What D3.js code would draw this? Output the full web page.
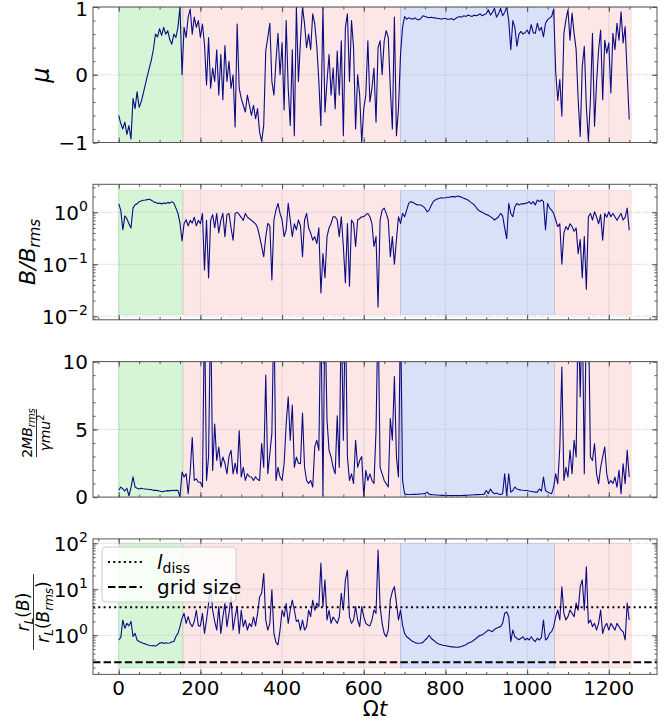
<!DOCTYPE html>
<html><head><meta charset="utf-8">
<script src="https://cdn.jsdelivr.net/npm/d3@7"></script>
<style>body{margin:0;background:#fff;} svg{display:block;font-family:"DejaVu Sans",sans-serif;}</style>
</head><body><svg id="c" width="670" height="726"></svg>
<script>
// ---------------- data ----------------
const STEP = 5; // sampling interval in Ωt (sample i is at Ωt = i*STEP)

const mu = [
-0.6,-0.72,-0.8,-0.7,-0.88,-0.75,-0.95,-0.35,-0.5,-0.25,
-0.48,-0.4,-0.28,-0.15,-0.02,0.1,0.22,0.38,0.6,0.56,
0.68,0.58,0.7,0.6,0.65,0.52,0.45,0.6,0.55,0.7,
1.0,0.0,0.7,0.55,0.85,0.97,0.6,0.85,0.7,0.8,
0.55,0.75,0.45,-0.15,0.55,-0.2,0.1,-0.1,0.37,-0.3,
0.3,-0.37,0.43,-0.1,0.2,-0.2,0.0,-0.77,0.75,-0.2,
-0.35,-0.45,-0.55,-0.3,-0.45,-0.6,-0.45,-0.65,-0.5,-0.85,
-0.98,-0.75,0.35,0.55,0.76,-0.1,-0.3,0.2,0.61,0.0,
0.47,-0.52,0.8,-0.2,-0.75,0.37,-0.9,1.0,-0.1,0.5,
1.0,0.75,0.4,0.6,0.37,0.9,0.75,0.42,-0.1,-0.75,
1.0,-0.55,-0.1,0.3,-0.3,0.1,-0.5,0.35,-0.3,0.5,
-0.9,0.7,0.9,-0.1,0.8,0.4,-0.8,0.0,-0.3,-1.0,
-0.5,-0.3,0.5,-0.4,-0.2,0.1,-0.7,0.4,0.5,0.0,
0.5,0.65,0.55,-0.2,-0.8,0.85,-0.9,-0.5,0.3,0.7,
0.86,0.82,0.84,0.83,0.82,0.84,0.82,0.81,0.83,0.87,
0.86,0.85,0.84,0.85,0.84,0.84,0.83,0.83,0.82,0.83,
0.83,0.82,0.82,0.83,0.81,0.83,0.85,0.86,0.85,0.87,
0.86,0.88,0.87,0.86,0.88,0.87,0.88,0.9,0.87,0.89,
0.9,0.96,0.88,0.92,0.98,0.85,0.9,0.98,0.87,0.92,
1.0,0.8,0.37,0.8,0.7,0.42,0.6,0.64,0.6,0.62,
0.66,0.6,0.74,0.62,0.61,0.76,0.65,0.7,0.56,0.76,
0.81,0.84,0.86,0.97,0.04,-0.38,-0.07,-0.61,0.61,0.81,
0.96,0.51,0.91,0.61,0.37,-0.37,-0.91,0.12,0.42,-0.47,
-0.98,-0.37,0.61,-0.76,-0.12,0.37,0.66,-0.37,0.51,0.32,
0.47,-0.27,0.61,0.37,0.76,0.51,0.93,0.47,0.71,0.0,
-0.66];

const bRatio = [
1.45,1.1,0.46,0.85,0.75,0.6,0.5,1.2,1.4,1.45,
1.6,1.65,1.7,1.72,1.75,1.78,1.7,1.6,1.55,1.48,
1.5,1.45,1.5,1.48,1.55,1.5,1.6,1.5,1.2,0.95,
0.62,0.28,0.6,0.72,0.55,0.7,0.62,0.8,0.55,0.7,
0.6,0.95,0.078,0.7,0.055,0.7,0.9,0.5,0.95,0.4,
0.7,0.95,0.34,0.9,0.95,0.5,0.29,0.95,1.0,0.9,
0.8,0.7,0.95,0.8,0.75,0.7,0.65,0.6,0.5,0.34,
0.22,0.14,0.34,0.61,0.55,0.05,0.71,1.1,1.48,0.95,
0.71,0.34,0.46,1.48,0.71,0.34,0.6,0.46,0.71,0.55,
0.14,0.71,0.95,0.5,0.4,0.29,0.34,0.25,0.5,0.028,
0.16,0.055,0.34,0.5,0.61,0.82,0.82,0.71,0.34,0.82,
0.22,0.044,0.61,0.038,0.71,0.61,0.22,0.71,0.76,0.82,
0.82,0.9,0.95,0.82,0.61,0.22,0.34,0.015,0.71,1.1,
1.2,0.95,0.71,0.14,0.34,0.1,0.3,0.82,0.61,0.95,
0.82,1.1,1.48,1.6,1.55,1.48,1.4,1.38,1.38,1.3,
1.2,1.02,1.1,1.35,1.6,1.72,1.8,1.86,1.9,1.88,
1.9,1.95,1.95,2.0,2.0,1.98,2.05,2.0,1.95,1.85,
1.8,1.72,1.6,1.5,1.4,1.25,1.1,1.05,1.0,0.95,
0.9,0.88,0.82,0.78,0.71,0.76,0.82,0.95,0.85,0.5,
0.31,1.48,0.95,0.82,1.28,1.48,1.38,1.45,1.45,1.48,
1.5,1.6,1.45,1.6,1.38,1.72,1.6,1.72,1.6,0.46,
1.48,1.2,1.1,0.95,0.71,0.53,0.6,0.1,0.4,0.53,
0.46,0.6,0.53,0.43,0.5,0.16,0.3,0.055,0.34,0.033,
0.82,0.95,0.71,1.02,0.82,0.6,0.9,0.29,0.95,0.8,
1.02,0.82,0.95,0.82,0.7,0.82,0.95,0.71,0.8,1.2,
0.45];

const moment = [
0.5,0.74,0.6,0.45,0.65,0.1,0.7,1.5,0.74,0.65,
0.6,0.65,0.62,0.6,0.58,0.56,0.55,0.5,0.5,0.48,
0.45,0.4,0.42,0.45,0.48,0.46,0.5,0.48,0.5,0.5,
0.0,1.85,1.48,1.72,0.25,1.85,4.4,1.23,1.35,1.1,
1.1,0.74,14,1.23,3.0,14,1.97,5.4,2.7,3.7,
2.2,2.96,2.5,1.72,3.0,3.45,1.72,2.5,1.72,4.9,
1.48,2.2,1.23,1.72,1.5,1.48,1.23,1.5,1.3,1.23,
3.95,2.2,9.0,1.72,3.2,4.7,14,1.23,2.2,1.48,
1.23,2.46,5.4,7.4,4.2,6.8,2.2,2.96,2.5,2.46,
6.2,2.2,1.23,1.0,1.23,0.74,3.7,4.2,3.45,14,
0.1,14,5.67,3.45,2.96,2.2,1.72,6.0,2.2,14,
4.2,14,2.96,1.23,1.72,1.0,4.2,2.2,2.7,3.0,
0.0,1.97,1.23,1.72,1.23,1.0,4.9,14,2.2,1.72,
1.23,0.98,0.74,5.8,4.2,8.9,2.96,1.48,14,1.23,
0.25,0.2,0.19,0.19,0.2,0.2,0.21,0.22,0.23,0.25,
0.26,0.37,0.22,0.18,0.17,0.16,0.15,0.14,0.13,0.13,
0.12,0.12,0.12,0.11,0.12,0.12,0.11,0.12,0.12,0.13,
0.13,0.14,0.15,0.16,0.17,0.18,0.18,0.19,0.2,0.22,
0.49,0.25,0.6,0.37,0.25,0.3,0.22,0.19,0.25,1.72,
0.12,1.72,0.37,0.49,0.74,0.6,0.55,0.52,0.5,0.49,
0.49,0.45,0.42,0.4,0.37,0.37,0.6,0.45,1.48,0.49,
0.37,0.3,0.25,0.74,1.72,0.98,3.7,9.6,1.23,2.2,
1.48,3.45,1.72,4.2,2.96,14,7.4,14,1.72,14,
14,2.96,2.7,3.95,1.72,0.98,2.2,2.96,3.7,1.72,
0.98,1.23,1.0,1.48,0.74,1.97,0.25,2.46,0.98,3.45,
1.48];

const rLRatio = [
0.79,0.9,2.15,1.42,1.82,1.6,2.0,0.94,1.1,0.79,
0.73,0.7,0.67,0.65,0.62,0.6,0.59,0.6,0.58,0.62,
0.67,0.7,0.66,0.69,0.67,0.68,0.72,0.73,0.94,1.1,
1.54,2.35,3.0,1.82,2.55,1.8,1.54,2.0,3.5,1.6,
1.6,3.0,1.1,2.15,4.9,13.0,3.5,2.0,1.3,4.2,
1.1,2.5,4.9,1.54,3.0,6.9,1.3,2.5,4.2,1.1,
3.5,1.54,2.15,1.3,1.8,1.54,2.5,1.6,3.0,6.9,
8.2,22,2.15,1.3,1.82,9.7,1.1,0.7,0.62,1.3,
3.5,2.55,4.9,1.8,3.5,5.8,3.5,2.0,2.15,1.3,
2.15,1.3,1.54,3.5,2.55,5.8,3.5,5.0,4.2,37,
4.2,16,2.15,3.5,1.82,2.5,2.15,1.82,2.5,8.2,
3.55,16,26,2.54,1.82,2.15,4.2,2.15,1.54,4.2,
2.54,1.82,1.67,1.6,2.15,3.55,3.0,71,4.2,1.82,
1.1,0.93,1.3,5.9,9.0,11.4,5.0,2.15,3.55,1.67,
1.1,0.93,0.86,0.79,0.73,0.7,0.67,0.67,0.68,0.7,
0.79,0.86,1.0,0.86,0.79,0.73,0.67,0.64,0.62,0.6,
0.6,0.58,0.57,0.56,0.56,0.55,0.55,0.56,0.57,0.6,
0.62,0.67,0.7,0.73,0.79,0.85,0.93,1.0,1.02,1.1,
1.2,1.3,1.25,1.2,1.35,1.42,1.5,1.54,1.82,3.0,
3.2,2.54,0.73,1.3,0.93,0.86,0.8,0.86,0.93,0.79,
0.86,0.79,0.93,0.8,0.73,0.86,0.79,0.9,2.15,0.79,
0.86,1.1,1.2,1.54,2.54,3.55,2.15,11.4,3.0,2.15,
2.54,3.55,3.0,2.54,5.0,3.5,11.4,16,3.55,31,
1.82,2.15,1.54,1.82,1.3,1.82,3.55,1.1,1.54,1.82,
1.3,1.82,1.54,1.3,1.82,1.54,1.3,1.2,0.79,5.0,
2.15];

// phases (Ωt intervals) and their kind
const phaseStart = [0, 157, 690, 1067];
const phaseEnd   = [157, 690, 1067, 1255];
const phaseKind  = ["trapped", "scattering", "mirror", "scattering"];

// reference levels in panel 4
const lDiss = 4.05;
const gridSize = 0.26;

// ticks
const xTicks = [0, 200, 400, 600, 800, 1000, 1200];
const muTicks = [-1, 0, 1];
const bTicks = [0.01, 0.1, 1];
const momentTicks = [0, 5, 10];
const rLTicks = [1, 10, 100];

// vertical extent of phase shading per panel
const muSpan = [-1, 1];
const bSpan = [0.0108, 2.65];
const momentSpan = [0, 10];
const rLSpan = [0.195, 100];

// ---------------- drawing ----------------
const svg = d3.select("#c");
const L = 93, R = 657, PH = 135.5;
const tops = [7, 184.3, 361.6, 538.9];
const x = d3.scaleLinear().domain([-63, 1318]).range([L, R]);
const xMinor = d3.range(-50, 1301, 50);
const spineColor = "#555";
const phaseFill = {trapped: "rgb(50,205,50)", scattering: "rgb(240,128,128)", mirror: "rgb(65,105,225)"};

function logMinors(dom) {
  const out = [];
  for (let e = Math.floor(Math.log10(dom[0])); e <= Math.ceil(Math.log10(dom[1])); e++)
    for (let k = 1; k < 10; k++) { const v = k * Math.pow(10, e); if (v >= dom[0] && v <= dom[1]) out.push(v); }
  return out;
}

const specs = [
  {values: mu, log: false, domain: [-1, 1], majors: muTicks, minors: d3.range(-1, 1.0001, 0.2), span: muSpan},
  {values: bRatio, log: true, domain: [0.00855, 3.45], majors: bTicks, span: bSpan},
  {values: moment, log: false, domain: [0, 10], majors: momentTicks, minors: d3.range(0, 10.001, 1), span: momentSpan},
  {values: rLRatio, log: true, domain: [0.141, 124.7], majors: rLTicks, span: rLSpan},
];

specs.forEach((s, i) => {
  const top = tops[i], bot = top + PH;
  const y = (s.log ? d3.scaleLog() : d3.scaleLinear()).domain(s.domain).range([bot, top]);
  const minors = s.log ? logMinors(s.domain) : s.minors;
  const g = svg.append("g");
  const clipId = "clip" + i;
  svg.append("clipPath").attr("id", clipId).append("rect")
    .attr("x", L).attr("y", top).attr("width", R - L).attr("height", PH);

  // phase shading
  g.append("g").attr("clip-path", `url(#${clipId})`).selectAll("rect")
    .data(phaseStart.map((a, k) => ({a, b: phaseEnd[k], kind: phaseKind[k]})))
    .join("rect")
    .attr("x", d => x(d.a)).attr("width", d => x(d.b) - x(d.a))
    .attr("y", y(s.span[1])).attr("height", y(s.span[0]) - y(s.span[1]))
    .attr("fill", d => phaseFill[d.kind]).attr("fill-opacity", 0.2)
    .attr("stroke", d => phaseFill[d.kind]).attr("stroke-opacity", 0.2).attr("stroke-width", 1);

  // grid
  const grid = g.append("g").attr("stroke", "#b0b0b0").attr("stroke-width", 0.8).attr("stroke-dasharray", "1,1.6");
  grid.selectAll("line.v").data(xTicks).join("line").attr("class", "v")
    .attr("x1", d => x(d)).attr("x2", d => x(d)).attr("y1", top).attr("y2", bot);
  grid.selectAll("line.h").data(s.majors).join("line").attr("class", "h")
    .attr("x1", L).attr("x2", R).attr("y1", d => y(d)).attr("y2", d => y(d));

  // series line
  const line = d3.line().x((d, j) => x(j * STEP)).y(d => y(d));
  g.append("path").datum(s.values).attr("clip-path", `url(#${clipId})`)
    .attr("d", line).attr("fill", "none").attr("stroke", "#0b0b82").attr("stroke-width", 1.1)
    .attr("stroke-linejoin", "round");

  // reference lines in last panel
  if (i === 3) {
    g.append("line").attr("x1", L).attr("x2", R).attr("y1", y(lDiss)).attr("y2", y(lDiss))
      .attr("stroke", "#000").attr("stroke-width", 2).attr("stroke-dasharray", "2,3.3");
    g.append("line").attr("x1", L).attr("x2", R).attr("y1", y(gridSize)).attr("y2", y(gridSize))
      .attr("stroke", "#000").attr("stroke-width", 2).attr("stroke-dasharray", "7.4,3.2");
  }

  // axes (ticks pointing inward on all sides)
  const clean = sel => { sel.select(".domain").remove(); sel.attr("color", spineColor).attr("font-size", null).attr("font-family", null); };
  const mk = (axis, tx, ty, vals, size) => g.append("g").attr("transform", `translate(${tx},${ty})`)
      .call(axis.tickValues(vals).tickSize(-size).tickSizeOuter(0).tickFormat("")).call(clean);
  mk(d3.axisBottom(x), 0, bot, xTicks, 5);
  mk(d3.axisBottom(x), 0, bot, xMinor, 2.5);
  mk(d3.axisTop(x), 0, top, xTicks, 5);
  mk(d3.axisTop(x), 0, top, xMinor, 2.5);
  mk(d3.axisLeft(y), L, 0, s.majors, 5);
  mk(d3.axisLeft(y), L, 0, minors, 2.5);
  mk(d3.axisRight(y), R, 0, s.majors, 5);
  mk(d3.axisRight(y), R, 0, minors, 2.5);

  // y tick labels
  const lab = g.append("g").attr("font-size", 20).attr("fill", "#000").attr("text-anchor", "end");
  s.majors.forEach(v => {
    if (s.log) {
      const e = Math.round(Math.log10(v));
      const t = lab.append("text").attr("x", 88).attr("y", Math.max(y(v) + 7.5, 21));
      t.append("tspan").text("10");
      t.append("tspan").attr("font-size", 14).attr("dy", -9).text(e < 0 ? "\u2212" + (-e) : String(e));
    } else {
      lab.append("text").attr("x", 88).attr("y", Math.max(y(v) + 7.3, 16)).text(v < 0 ? "\u2212" + (-v) : String(v));
    }
  });

  // x tick labels on bottom panel
  if (i === 3) {
    g.append("g").attr("font-size", 20).attr("text-anchor", "middle").selectAll("text").data(xTicks).join("text")
      .attr("x", d => x(d)).attr("y", bot + 21).text(d => d);
  }

  // spines
  g.append("rect").attr("x", L).attr("y", top).attr("width", R - L).attr("height", PH)
    .attr("fill", "none").attr("stroke", spineColor).attr("stroke-width", 1);
});

// y labels
{
  svg.append("text").attr("transform", "translate(49,75) rotate(-90)").attr("text-anchor", "middle")
    .attr("font-size", 24).attr("font-style", "italic").text("μ");

  const t2 = svg.append("text").attr("transform", "translate(35,252) rotate(-90)").attr("text-anchor", "middle")
    .attr("font-size", 22).attr("font-style", "italic");
  t2.append("tspan").text("B/B");
  t2.append("tspan").attr("font-size", 15).attr("dy", 5).text("rms");

  // panel 3 fraction
  const g3 = svg.append("g").attr("transform", "translate(0,433) rotate(-90)");
  const n3 = g3.append("text").attr("x", 0).attr("y", 32).attr("text-anchor", "middle").attr("font-size", 14);
  n3.append("tspan").text("2");
  n3.append("tspan").attr("font-style", "italic").text("MB");
  n3.append("tspan").attr("font-style", "italic").attr("font-size", 10).attr("dy", 3).text("rms");
  g3.append("line").attr("x1", -24).attr("x2", 24).attr("y1", 36.5).attr("y2", 36.5).attr("stroke", "#000").attr("stroke-width", 0.8);
  const d3t = g3.append("text").attr("x", 0).attr("y", 50).attr("text-anchor", "middle").attr("font-size", 14);
  d3t.append("tspan").attr("font-style", "italic").text("γmu");
  d3t.append("tspan").attr("font-size", 10).attr("dy", -6).text("2");

  // panel 4 fraction
  const g4 = svg.append("g").attr("transform", "translate(0,612) rotate(-90)");
  const n4 = g4.append("text").attr("x", 0).attr("y", 29).attr("text-anchor", "middle").attr("font-size", 17);
  n4.append("tspan").attr("font-style", "italic").text("r");
  n4.append("tspan").attr("font-style", "italic").attr("font-size", 12).attr("dy", 4).text("L");
  n4.append("tspan").attr("dy", -4).text("(");
  n4.append("tspan").attr("font-style", "italic").text("B");
  n4.append("tspan").text(")");
  g4.append("line").attr("x1", -38).attr("x2", 38).attr("y1", 33.5).attr("y2", 33.5).attr("stroke", "#000").attr("stroke-width", 0.8);
  const d4 = g4.append("text").attr("x", 0).attr("y", 49).attr("text-anchor", "middle").attr("font-size", 17);
  d4.append("tspan").attr("font-style", "italic").text("r");
  d4.append("tspan").attr("font-style", "italic").attr("font-size", 12).attr("dy", 4).text("L");
  d4.append("tspan").attr("dy", -4).text("(");
  d4.append("tspan").attr("font-style", "italic").text("B");
  d4.append("tspan").attr("font-style", "italic").attr("font-size", 12).attr("dy", 4).text("rms");
  d4.append("tspan").attr("dy", -4).text(")");
}

// x label
{
  const t = svg.append("text").attr("x", 375).attr("y", 716).attr("text-anchor", "middle").attr("font-size", 21);
  t.append("tspan").text("Ω");
  t.append("tspan").attr("font-style", "italic").text("t");
}

// legend
{
  const lg = svg.append("g");
  lg.append("rect").attr("x", 102).attr("y", 547).attr("width", 134).attr("height", 55).attr("rx", 4)
    .attr("fill", "#fff").attr("fill-opacity", 0.8).attr("stroke", "#ccc").attr("stroke-width", 1);
  lg.append("line").attr("x1", 108).attr("x2", 142).attr("y1", 562).attr("y2", 562)
    .attr("stroke", "#000").attr("stroke-width", 2).attr("stroke-dasharray", "2,3.3");
  lg.append("line").attr("x1", 108).attr("x2", 142).attr("y1", 587).attr("y2", 587)
    .attr("stroke", "#000").attr("stroke-width", 2).attr("stroke-dasharray", "7.4,3.2");
  const a = lg.append("text").attr("x", 157).attr("y", 569).attr("font-size", 20);
  a.append("tspan").attr("font-style", "italic").text("l");
  a.append("tspan").attr("font-size", 14).attr("dy", 4).text("diss");
  lg.append("text").attr("x", 157).attr("y", 594).attr("font-size", 20).text("grid size");
}
</script></body></html>
